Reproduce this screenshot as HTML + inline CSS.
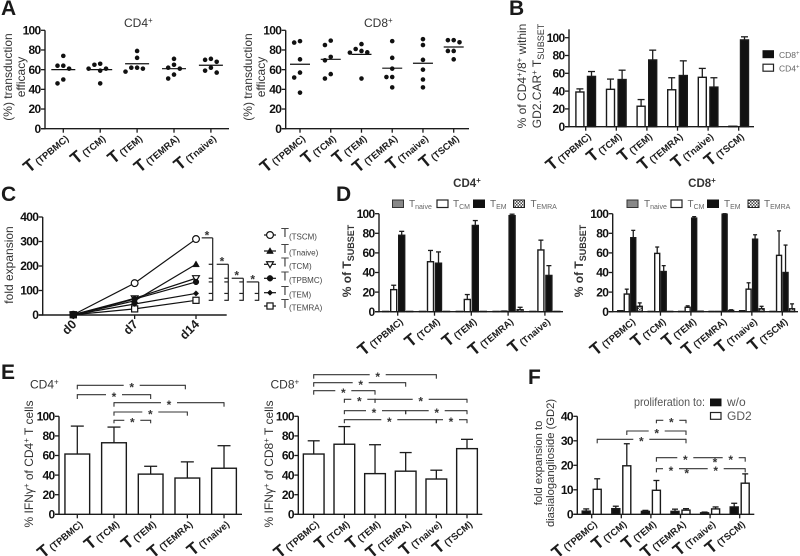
<!DOCTYPE html>
<html lang="en">
<head>
<meta charset="utf-8">
<title>T cell subset panels</title>
<style>
html,body{margin:0;padding:0;background:#fff;width:800px;height:556px;overflow:hidden}
svg{display:block;filter:blur(0.35px);font-family:"Liberation Sans",sans-serif}
.letter{font-size:21px;font-weight:700;fill:#1a1a1a}
.title{font-size:12px;fill:#333}
.ytitle{font-size:12px;fill:#333;text-anchor:middle}
.leg{font-size:8.5px;fill:#666}
.legb{font-size:12px;fill:#555}
</style>
</head>
<body>
<svg id="fig" width="800" height="556" viewBox="0 0 800 556" xmlns="http://www.w3.org/2000/svg">
<defs>
<pattern id="chk" width="3" height="3" patternUnits="userSpaceOnUse"><rect width="3" height="3" fill="#fff"/><rect width="1.5" height="1.5" fill="#444"/><rect x="1.5" y="1.5" width="1.5" height="1.5" fill="#444"/></pattern>
</defs>

<g>
<text class="letter" x="1" y="15">A</text>
<text class="letter" x="509" y="15">B</text>
<text class="letter" x="1" y="201">C</text>
<text class="letter" x="336" y="201">D</text>
<text class="letter" x="1" y="379">E</text>
<text class="letter" x="528" y="384">F</text>
</g>

<g>
<text class="title" x="124" y="27">CD4<tspan dy="-4" font-size="8">+</tspan></text>
<text class="title" x="364" y="27">CD8<tspan dy="-4" font-size="8">+</tspan></text>
<text class="ytitle" transform="translate(12,77) rotate(-90)">(%) transduction</text>
<text class="ytitle" transform="translate(25,77) rotate(-90)">efficacy</text>
<text class="ytitle" transform="translate(252,77) rotate(-90)">(%) transduction</text>
<text class="ytitle" transform="translate(265,77) rotate(-90)">efficacy</text>

<text class="ytitle" transform="translate(526,76) rotate(-90)">% of CD4<tspan dy="-4" font-size="8">+</tspan><tspan dy="4">/8</tspan><tspan dy="-4" font-size="8">+</tspan><tspan dy="4"> within</tspan></text>
<text class="ytitle" transform="translate(541,76) rotate(-90)">GD2.CAR<tspan dy="-4" font-size="8">+</tspan><tspan dy="4"> T</tspan><tspan dy="3" font-size="9">SUBSET</tspan></text>
<g>
<rect x="763" y="50.7" width="10.5" height="7" fill="#111" stroke="#111"/>
<text class="leg" x="779" y="58">CD8<tspan dy="-3" font-size="6">+</tspan></text>
<rect x="763" y="64.2" width="10.5" height="7" fill="#fff" stroke="#222" stroke-width="1.2"/>
<text class="leg" x="779" y="71.5">CD4<tspan dy="-3" font-size="6">+</tspan></text>
</g>

<text class="ytitle" transform="translate(13,265) rotate(-90)">fold expansion</text>

<text class="title" text-anchor="middle" x="467" y="187" font-weight="700" style="font-size:11.5px">CD4<tspan dy="-4" font-size="8">+</tspan></text>
<text class="title" text-anchor="middle" x="702" y="187" font-weight="700" style="font-size:11.5px">CD8<tspan dy="-4" font-size="8">+</tspan></text>
<text class="ytitle" font-weight="700" transform="translate(351,261) rotate(-90)">% of T<tspan dy="3" font-size="9">SUBSET</tspan></text>
<text class="ytitle" font-weight="700" transform="translate(583,261) rotate(-90)">% of T<tspan dy="3" font-size="9">SUBSET</tspan></text>

<g>
<rect x="392.5" y="200" width="11" height="7.5" fill="#888" stroke="#333"/>
<text x="409" y="207" font-size="10" fill="#666">T<tspan dy="2" font-size="7">naive</tspan></text>
<rect x="437" y="200" width="11" height="7.5" fill="#fff" stroke="#222" stroke-width="1.2"/>
<text x="453" y="207" font-size="10" fill="#666">T<tspan dy="2" font-size="7">CM</tspan></text>
<rect x="473.5" y="200" width="11" height="7.5" fill="#111" stroke="#111"/>
<text x="490" y="207" font-size="10" fill="#666">T<tspan dy="2" font-size="7">EM</tspan></text>
<rect x="513.5" y="200" width="11" height="7.5" fill="url(#chk)" stroke="#222"/>
<text x="530.5" y="207" font-size="10" fill="#666">T<tspan dy="2" font-size="7">EMRA</tspan></text>
</g>
<g>
<rect x="627" y="200" width="11" height="7.5" fill="#888" stroke="#333"/>
<text x="644" y="207" font-size="10" fill="#666">T<tspan dy="2" font-size="7">naive</tspan></text>
<rect x="671" y="200" width="11" height="7.5" fill="#fff" stroke="#222" stroke-width="1.2"/>
<text x="687.5" y="207" font-size="10" fill="#666">T<tspan dy="2" font-size="7">CM</tspan></text>
<rect x="707.5" y="200" width="11" height="7.5" fill="#111" stroke="#111"/>
<text x="724" y="207" font-size="10" fill="#666">T<tspan dy="2" font-size="7">EM</tspan></text>
<rect x="748" y="200" width="11" height="7.5" fill="url(#chk)" stroke="#222"/>
<text x="764" y="207" font-size="10" fill="#666">T<tspan dy="2" font-size="7">EMRA</tspan></text>
</g>

<text class="title" x="30" y="388.5">CD4<tspan dy="-4" font-size="8">+</tspan></text>
<text class="title" x="270.5" y="388.5">CD8<tspan dy="-4" font-size="8">+</tspan></text>
<text class="ytitle" transform="translate(33,464) rotate(-90)">% IFNγ<tspan dy="-4" font-size="8">+</tspan><tspan dy="4"> of CD4</tspan><tspan dy="-4" font-size="8">+</tspan><tspan dy="4"> T cells</tspan></text>
<text class="ytitle" transform="translate(273,464) rotate(-90)">% IFNγ<tspan dy="-4" font-size="8">+</tspan><tspan dy="4"> of CD8</tspan><tspan dy="-4" font-size="8">+</tspan><tspan dy="4"> T cells</tspan></text>

<text class="ytitle" style="font-size:11.2px" transform="translate(542,463) rotate(-90)">fold expansion to</text>
<text class="ytitle" style="font-size:11.2px" transform="translate(554,463) rotate(-90)">diasialoganglioside (GD2)</text>
<g>
<text class="legb" x="634" y="406" textLength="71" lengthAdjust="spacingAndGlyphs">proliferation to:</text>
<rect x="710.5" y="399" width="10.5" height="6.8" fill="#111" stroke="#111"/>
<text class="legb" x="727" y="406">w/o</text>
<rect x="710.5" y="412.5" width="10.5" height="6.8" fill="#fff" stroke="#222" stroke-width="1.2"/>
<text class="legb" x="727" y="420">GD2</text>
</g>
</g>
</svg>

<script>
/* ---------- data ---------- */
const catsFive = ["(TPBMC)", "(TCM)", "(TEM)", "(TEMRA)", "(Tnaive)"];
const catsSix = ["(TPBMC)", "(TCM)", "(TEM)", "(TEMRA)", "(Tnaive)", "(TSCM)"];
const ticksPct = [0, 20, 40, 60, 80, 100];
const ticksFold = [0, 100, 200, 300, 400];
const ticksProlif = [0, 10, 20, 30, 40];
const days = ["d0", "d7", "d14"];

/* A: transduction efficacy */
const transCD4 = [
  [74, 64, 64, 61, 50, 46],
  [66, 65, 61, 61, 59, 46],
  [79, 72, 62, 62, 61, 58],
  [71, 65, 62, 61, 55, 51],
  [71, 70, 68, 62, 59, 57]
];
const transCD4Mean = [60, 60, 66, 61, 64.5];
const transCD8 = [
  [89, 87.5, 70.5, 57, 52, 36.6],
  [89.5, 85, 73, 69.5, 55.5, 51],
  [86, 81, 79, 77.6, 77.3, 51],
  [89, 72, 61, 52.5, 52.5, 42],
  [91, 85, 70, 60, 50, 42],
  [90, 90, 87.8, 79, 79, 70.5]
];
const transCD8Mean = [65.5, 70.5, 75.5, 61.5, 66.5, 83];

/* B: CD4/CD8 share */
const shareCD4 = [39, 42, 23, 41.5, 55.5, 0.5];
const shareCD4Top = [42.5, 53.5, 30.5, 55, 65.5, 0.5];
const shareCD8 = [56.5, 53, 75, 57.5, 44.5, 97.5];
const shareCD8Top = [62, 63.5, 86, 74, 55, 101];

/* C: fold expansion */
const foldTSCM = [1, 130, 310];
const foldTnaive = [1, 58, 207];
const foldTCM = [1, 68, 150];
const foldTPBMC = [1, 65, 135];
const foldTEM = [1, 45, 88];
const foldTEMRA = [1, 25, 60];
const foldNames = ["(TSCM)", "(Tnaive)", "(TCM)", "(TPBMC)", "(TEM)", "(TEMRA)"];

/* D: memory phenotype CD4 */
const d4Naive = [0.3, 0.3, 0.3, 0.3, 0.3];
const d4CM = [22.5, 51, 12.5, 0.5, 63];
const d4CMTop = [27, 62.5, 17.5, 0.7, 73];
const d4EM = [78, 49.5, 88, 98, 37];
const d4EMTop = [82, 61, 93, 99.5, 47];
const d4EMRA = [0.3, 0.3, 0.3, 2, 0.3];
const d4EMRATop = [0.3, 0.3, 0.3, 4.5, 0.3];

/* D: memory phenotype CD8 */
const d8Naive = [1, 0.3, 0.3, 0.3, 1, 0.3];
const d8CM = [18, 59.5, 4.5, 0.3, 23, 57.5];
const d8CMTop = [23, 66, 6, 0.3, 29.5, 82.5];
const d8EM = [75.5, 41, 95.5, 99.5, 74, 40];
const d8EMTop = [83, 47, 97, 100, 78.5, 68];
const d8EMRA = [5.5, 0.3, 0.5, 1.3, 3, 3];
const d8EMRATop = [9, 0.3, 0.5, 2, 5.5, 8];

/* E: IFN-gamma */
const ifnCD4 = [61.5, 73, 41, 37, 47];
const ifnCD4Top = [90, 89, 49, 53.5, 70];
const ifnCD8 = [61.5, 71.5, 41.5, 44, 36, 67];
const ifnCD8Top = [75, 89.5, 71, 63, 45, 76.5];

/* F: proliferation */
const prolifWo = [1.3, 2.3, 1.2, 1.2, 0.6, 3];
const prolifWoTop = [2.2, 3.3, 1.6, 2.1, 0.9, 4.5];
const prolifGD2 = [10.2, 19.8, 9.8, 1.7, 2.2, 12.7];
const prolifGD2Top = [14.5, 28.8, 13.8, 2.3, 3, 16.5];

/* ---------- helpers ---------- */
const NS = "http://www.w3.org/2000/svg";
const fig = document.getElementById("fig");
const INK = "#1c1c1c";

function mk(tag, name, attrs, parent) {
  const el = document.createElementNS(NS, tag);
  
  
  for (const k in attrs) el.setAttribute(k, attrs[k]);
  (parent || fig).appendChild(el);
  return el;
}
function line(p, name, x1, y1, x2, y2, w, col) {
  return mk("line", name, { x1, y1, x2, y2, stroke: col || INK, "stroke-width": w || 1.2 }, p);
}
function makeFrame(name, x0, x1, yMax, y0, vMax, first, step) {
  const g = mk("g", name, {});
  const y = v => y0 - (v / vMax) * (y0 - yMax);
  const x = i => first + i * step;
  return { g, x, y, x0, x1, y0, yMax };
}
function yAxis(f, ticks, topPx) {
  line(f.g, "y-axis-line", f.x0, topPx === undefined ? f.yMax : topPx, f.x0, f.y0 + 0.6, 1.4);
  ticks.forEach(t => {
    line(f.g, "y-tick", f.x0 - 4, f.y(t), f.x0, f.y(t), 1.3);
    const tx = mk("text", "y-tick-label", { x: f.x0 - 4.5, y: f.y(t) + 4.2, "text-anchor": "end", "font-size": 12, "font-weight": 700, fill: "#111", "letter-spacing": "-0.7" }, f.g);
    tx.textContent = t;
  });
}
function xAxis(f, cats) {
  line(f.g, "x-axis-line", f.x0 - 4, f.y0, f.x1, f.y0, 1.4);
  cats.forEach((c, i) => {
    const cx = f.x(i);
    line(f.g, "x-tick", cx, f.y0, cx, f.y0 + 4, 1.3);
    const ax = cx + 6, ay = f.y0 + 11;
    const tx = mk("text", "x-category-label", { x: ax, y: ay, "text-anchor": "end", fill: INK, "font-weight": 700, transform: "rotate(-40 " + ax + " " + ay + ")" }, f.g);
    const a = mk("tspan", "category-t", { "font-size": 17 }, tx);
    a.textContent = "T";
    const b = mk("tspan", "category-subscript", { "font-size": 9.5, dx: 2 }, tx);
    b.textContent = c;
  });
}
function swarmOffsets(values, yf, step) {
  const placed = [];
  values.forEach(v => {
    const py = yf(v);
    for (const k of [0, -1, 1, -2, 2, -3, 3]) {
      const ox = k * step;
      if (placed.every(p => Math.hypot(p.ox - ox, p.py - py) >= step - 0.3)) {
        placed.push({ ox, py });
        break;
      }
    }
  });
  return placed;
}
function scatter(f, groups, means, halfW) {
  groups.forEach((vals, i) => {
    swarmOffsets(vals, f.y, 5.8).forEach(p => {
      mk("circle", "data-point", { cx: f.x(i) + p.ox, cy: p.py, r: 2.3, fill: "#111" }, f.g);
    });
    line(f.g, "mean-line", f.x(i) - halfW, f.y(means[i]), f.x(i) + halfW, f.y(means[i]), 1.2, "#111");
  });
}
function bars(f, vals, tops, dx, w, fill, cap, name) {
  vals.forEach((v, i) => {
    const cx = f.x(i) + dx;
    if (tops && tops[i] > v) {
      line(f.g, "error-bar", cx, f.y(tops[i]), cx, f.y(v), 1.3);
      line(f.g, "error-cap", cx - cap, f.y(tops[i]), cx + cap, f.y(tops[i]), 1.3);
    }
    mk("rect", name, { x: cx - w / 2, y: f.y(v), width: w, height: f.y0 - f.y(v), fill, stroke: "#1a1a1a", "stroke-width": 1.4 }, f.g);
  });
}
function star(p, x, y) {
  const s = mk("text", "significance-star", { x, y: y + 6.4, "text-anchor": "middle", "font-size": 12, "font-weight": 700, fill: "#333" }, p);
  s.textContent = "*";
}
function bracket(p, xa, xb, y, drop, stars) {
  const g = mk("g", "significance-bracket", {}, p);
  const gap = 8;
  let cur = xa;
  line(g, "bracket-end", xa, y - 0.5, xa, y + drop, 1.1, "#333");
  line(g, "bracket-end", xb, y - 0.5, xb, y + drop, 1.1, "#333");
  stars.forEach(sx => {
    line(g, "bracket-segment", cur, y, sx - gap, y, 1.1, "#333");
    star(g, sx, y);
    cur = sx + gap;
  });
  line(g, "bracket-segment", cur, y, xb, y, 1.1, "#333");
}

/* ---------- A ---------- */
const fA1 = makeFrame("chart-a-cd4", 45, 229, 30.3, 128.7, 100, 63.3, 36.9);
yAxis(fA1, ticksPct);
xAxis(fA1, catsFive);
scatter(fA1, transCD4, transCD4Mean, 12);

const fA2 = makeFrame("chart-a-cd8", 285.7, 469, 30.3, 128.7, 100, 300, 30.74);
yAxis(fA2, ticksPct);
xAxis(fA2, catsSix);
scatter(fA2, transCD8, transCD8Mean, 10);

/* ---------- B ---------- */
const fB = makeFrame("chart-b-share", 569, 754, 37.7, 126.7, 100, 585.7, 30.6);
yAxis(fB, ticksPct, 29.3);
xAxis(fB, catsSix);
bars(fB, shareCD4, shareCD4Top, -5.8, 8, "#fff", 3.5, "bar-cd4");
bars(fB, shareCD8, shareCD8Top, 5.8, 8, "#111", 3.5, "bar-cd8");

/* ---------- C ---------- */
const fC = makeFrame("chart-c-expansion", 42.7, 226.7, 217, 315, 400, 73.3, 61.35);
yAxis(fC, ticksFold);
line(fC.g, "x-axis-line", fC.x0 - 4, fC.y0, fC.x1, fC.y0, 1.4);
days.forEach((d, i) => {
  const cx = fC.x(i);
  line(fC.g, "x-tick", cx, fC.y0, cx, fC.y0 + 4, 1.3);
  const ax = cx + 4, ay = fC.y0 + 10;
  const tx = mk("text", "x-day-label", { x: ax, y: ay, "text-anchor": "end", "font-size": 12.5, "font-weight": 700, fill: INK, transform: "rotate(-45 " + ax + " " + ay + ")" }, fC.g);
  tx.textContent = d;
});
function marker(p, kind, cx, cy, s) {
  const name = "series-marker";
  const open = { fill: "#fff", stroke: "#111", "stroke-width": 1.2 };
  const solid = { fill: "#111", stroke: "#111", "stroke-width": 0.5 };
  if (kind === "circleOpen") mk("circle", name, Object.assign({ cx, cy, r: s }, open), p);
  if (kind === "circle") mk("circle", name, Object.assign({ cx, cy, r: s * 0.85 }, solid), p);
  if (kind === "triUp") mk("polygon", name, Object.assign({ points: [cx, cy - s, cx - s, cy + s * 0.75, cx + s, cy + s * 0.75].join(",") }, solid), p);
  if (kind === "triDown") mk("polygon", name, Object.assign({ points: [cx - s, cy - s * 0.75, cx + s, cy - s * 0.75, cx, cy + s].join(",") }, open), p);
  if (kind === "diamond") mk("polygon", name, Object.assign({ points: [cx, cy - s * 0.8, cx + s * 0.8, cy, cx, cy + s * 0.8, cx - s * 0.8, cy].join(",") }, solid), p);
  if (kind === "square") mk("rect", name, Object.assign({ x: cx - s * 0.9, y: cy - s * 0.9, width: s * 1.8, height: s * 1.8 }, open), p);
}
const foldSeries = [foldTSCM, foldTnaive, foldTCM, foldTPBMC, foldTEM, foldTEMRA];
const foldMarks = ["circleOpen", "triUp", "triDown", "circle", "diamond", "square"];
for (let s = foldSeries.length - 1; s >= 0; s--) {
  const vals = foldSeries[s];
  mk("polyline", "series-line", { points: vals.map((v, i) => fC.x(i) + "," + fC.y(v)).join(" "), fill: "none", stroke: "#111", "stroke-width": 1.2 }, fC.g);
}
/* open markers first, solid on top so the d0 cluster reads as a dark blob */
[0, 2, 5, 1, 3, 4].forEach(s => {
  foldSeries[s].forEach((v, i) => marker(fC.g, foldMarks[s], fC.x(i), fC.y(v), 3.4));
});
foldSeries[3].slice(0, 1).forEach(v => {
  mk("rect", "d0-marker-overlap", { x: fC.x(0) - 3.4, y: fC.y(v) - 3.2, width: 6.8, height: 6.4, fill: "#111" }, fC.g);
});
const cBrGroup = mk("g", "c-significance-brackets", {});
const cLeft = [201.7, 216.7, 231.7, 246.7];
const cRight = [212.7, 228.3, 243.3, 258.7];
const cStar = [207, 222, 236.7, 252.7];
cLeft.forEach((xl, k) => {
  const topY = fC.y(foldSeries[k][2]) - (k === 0 ? 1.2 : 0);
  const botY = fC.y(foldSeries[5][2]);
  line(cBrGroup, "bracket-top", xl, topY, cRight[k], topY, 1.2, "#222");
  line(cBrGroup, "bracket-spine", cRight[k], topY, cRight[k], botY + 0.5, 1.2, "#222");
  for (let j = k + 1; j < 6; j++) {
    const ty = fC.y(foldSeries[j][2]);
    line(cBrGroup, "bracket-tick", cRight[k] - 4, ty, cRight[k], ty, 1.2, "#222");
  }
  star(cBrGroup, cStar[k], topY - 5);
});
const cLegend = mk("g", "c-legend", {});
const cLegendRow = [235, 251, 264.3, 278.3, 292.7, 306];
foldNames.forEach((n, i) => {
  const ry = cLegendRow[i];
  line(cLegend, "legend-line", 264, ry, 276, ry, 1.2, "#111");
  marker(cLegend, foldMarks[i], 270, ry, 3.4);
  const tx = mk("text", "legend-label", { x: 281, y: ry + 2.2, "font-size": 13, fill: "#444" }, cLegend);
  const a = mk("tspan", "legend-t", {}, tx);
  a.textContent = "T";
  const b = mk("tspan", "legend-subscript", { "font-size": 8, dy: 2.5 }, tx);
  b.textContent = n;
});

/* ---------- D ---------- */
const fD4 = makeFrame("chart-d-cd4", 379, 563, 213.7, 311.7, 100, 397.7, 36.8);
yAxis(fD4, ticksPct);
xAxis(fD4, catsFive);
bars(fD4, d4Naive, null, -12, 6, "#888", 2, "bar-naive");
bars(fD4, d4CM, d4CMTop, -4, 6, "#fff", 2.5, "bar-cm");
bars(fD4, d4EM, d4EMTop, 4, 6, "#111", 2.5, "bar-em");
bars(fD4, d4EMRA, d4EMRATop, 12, 6, "url(#chk)", 2.5, "bar-emra");

const fD8 = makeFrame("chart-d-cd8", 612.7, 798, 213.7, 311.7, 100, 630, 30.46);
yAxis(fD8, ticksPct);
xAxis(fD8, catsSix);
bars(fD8, d8Naive, null, -9.75, 5, "#888", 2, "bar-naive");
bars(fD8, d8CM, d8CMTop, -3.25, 5, "#fff", 2, "bar-cm");
bars(fD8, d8EM, d8EMTop, 3.25, 5, "#111", 2, "bar-em");
bars(fD8, d8EMRA, d8EMRATop, 9.75, 5, "url(#chk)", 2, "bar-emra");

/* ---------- E ---------- */
const fE4 = makeFrame("chart-e-cd4", 59, 242, 416.3, 514.3, 100, 77.3, 36.68);
yAxis(fE4, ticksPct);
xAxis(fE4, catsFive);
bars(fE4, ifnCD4, ifnCD4Top, 0, 24.7, "#fff", 6.5, "bar-ifn-cd4");
bracket(fE4.g, fE4.x(0), fE4.x(3) - 2, 385.3, 4, [131.7]);
bracket(fE4.g, fE4.x(0), fE4.x(2), 394.7, 4.3, [114]);
bracket(fE4.g, fE4.x(1), fE4.x(4), 402.7, 4, [169]);
bracket(fE4.g, fE4.x(1), fE4.x(3), 412, 3.7, [150.3]);
bracket(fE4.g, fE4.x(1), fE4.x(2), 420.3, 3, [132.3]);

const fE8 = makeFrame("chart-e-cd8", 298.3, 482.3, 416.3, 514.3, 100, 313.7, 30.66);
yAxis(fE8, ticksPct);
xAxis(fE8, catsSix);
bars(fE8, ifnCD8, ifnCD8Top, 0, 20.7, "#fff", 6, "bar-ifn-cd8");
bracket(fE8.g, fE8.x(0), fE8.x(4), 374.7, 4, [377.7]);
bracket(fE8.g, fE8.x(0), fE8.x(3), 382.7, 4, [360.7]);
bracket(fE8.g, fE8.x(0), fE8.x(2), 390.7, 4, [343.3]);
bracket(fE8.g, fE8.x(1), fE8.x(2), 399.3, 3.5, [359.3]);
bracket(fE8.g, fE8.x(2), fE8.x(5), 399.3, 3.5, [420.7]);
bracket(fE8.g, fE8.x(1), fE8.x(3), 410.7, 3.5, [374]);
bracket(fE8.g, fE8.x(3), fE8.x(5), 410.7, 3.5, [436.7]);
bracket(fE8.g, fE8.x(1), fE8.x(4), 419.7, 3.5, [389.3]);
bracket(fE8.g, fE8.x(4), fE8.x(5), 419.7, 3.5, [451]);

/* ---------- F ---------- */
const fF = makeFrame("chart-f-proliferation", 577.3, 754.3, 416.3, 514.3, 40, 591.7, 29.6);
yAxis(fF, ticksProlif);
xAxis(fF, catsSix);
bars(fF, prolifWo, prolifWoTop, -5.5, 8, "#111", 3, "bar-without");
bars(fF, prolifGD2, prolifGD2Top, 5.5, 8, "#fff", 3, "bar-gd2");
const wx = i => fF.x(i) + 5.5;
bracket(fF.g, wx(2), wx(3), 420.3, 3, [671.3]);
bracket(fF.g, wx(1), wx(3), 431, 4, [656.7]);
bracket(fF.g, wx(0), wx(3), 439.3, 4, [641.3]);
bracket(fF.g, wx(2), wx(5), 457.7, 4, [685.3, 730.7]);
bracket(fF.g, wx(2), wx(5), 468.7, 3.7, [671, 715.7]);
star(fF.g, 715, 460);
star(fF.g, 686.7, 471);
</script>
</body>
</html>
